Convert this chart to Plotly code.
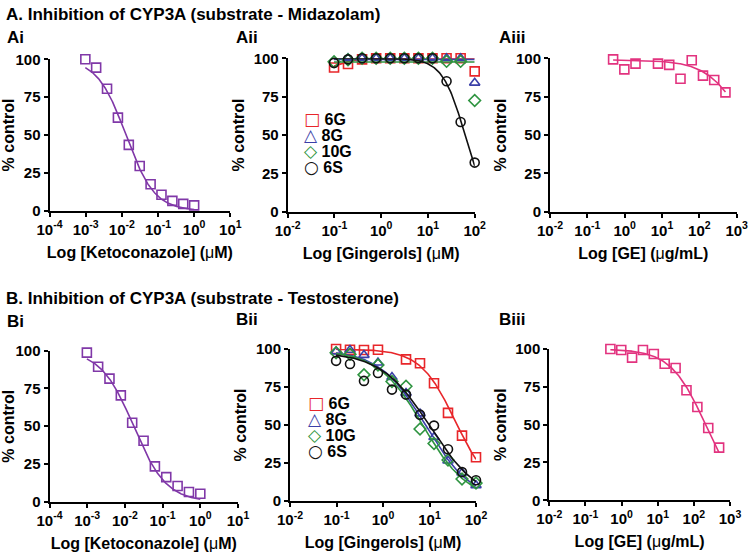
import numpy as np
import plotly.graph_objects as go

# concentrations (serial 2-fold dilutions)
keto_conc = [0.00098, 0.00195, 0.0039, 0.0078, 0.0156, 0.03125, 0.0625, 0.125, 0.25, 0.5, 1.0]
ginger_conc = [0.098, 0.195, 0.39, 0.78, 1.56, 3.125, 6.25, 12.5, 25, 50, 100]
ge_conc = [0.49, 0.98, 1.95, 3.9, 7.8, 15.6, 31.25, 62.5, 125, 250, 500]

gingerol_names = ["6G", "8G", "10G", "6S"]

# A. substrate - Midazolam
a_keto = [100, 94.5, 80.5, 61.5, 43.5, 29.5, 17.5, 10.5, 6.5, 4.5, 3.5]
a_6g = [94, 96.3, 99.3, 100, 100, 100, 100, 100, 100, 100, 91.5]
a_8g = [101.5, 100, 100, 100, 100, 100, 100, 100, 100, 100, 84]
a_10g = [97.8, 99, 100, 100, 100, 100, 100, 100, 98, 98, 72.5]
a_6s = [97, 99.3, 100, 100, 100, 100, 100, 100, 85, 58.5, 32]
a_ge = [99.3, 92.8, 96.5, 100.5, 96.5, 95.7, 86.7, 98.7, 88.7, 85.9, 77.8]

# B. substrate - Testosterone
b_keto = [98.7, 89.4, 81.5, 70.4, 52.3, 40.4, 23.4, 16.3, 10.4, 6.4, 5.3]
b_6g = [100, 99.5, 99.3, 99.5, None, 93.2, 90.6, 77.5, 58, 43, 28.8]
b_8g = [98.3, 99.3, 96, 91, 81.5, 71, 57.5, 42, 26.5, 18.6, 10.3]
b_10g = [97.6, 96.5, 83, 89.5, 78.6, 75.5, 47.4, 37.8, 27, 14.5, 11.8]
b_6s = [92.2, 90.1, 79, 84.2, 73.3, 70, 56.8, 49.6, 34, 19, 13.7]
b_ge = [100, 99.3, 94.3, 99.3, 96.7, 90.3, 87.4, 72.7, 61.7, 47.8, 34.8]

# fitted 4PL parameters: (top, bottom, IC50, hill)
a_keto_fit = (100, 0, 0.013, 1.1)
a_6g_fit = (90, 100, 0.1, 2.0)
a_8g_fit = (99.3, 99.3, 1.0, 1.0)
a_10g_fit = (97.6, 97.6, 1.0, 1.0)
a_6s_fit = (100, 0, 62, 1.8)
a_ge_fit = (99, 0, 2425, 0.83)
b_keto_fit = (100, 0, 0.017, 1.0)
b_6g_fit = (100, 5, 36, 1.15)
b_8g_fit = (99.5, 0, 8.2, 0.88)
b_10g_fit = (99, 0, 7.3, 0.9)
b_6s_fit = (98, 0, 10.2, 0.83)
b_ge_fit = (100, 0, 210, 0.9)

PURPLE = "#8038A8"
PINK = "#E2337F"
gingerol_colors = ["#E8262A", "#3A3FA8", "#2E9440", "#111111"]
gingerol_symbols = ["square-open", "triangle-up-open", "diamond-open", "circle-open"]
legend_glyphs = ["\u25a1", "\u25b3", "\u25c7", "\u25cb"]

W, H = 753, 558
FONT = "Liberation Sans, Arial, sans-serif"


def logistic(x, p):
    top, bottom, ic50, hill = p
    x = np.asarray(x, dtype=float)
    return bottom + (top - bottom) / (1 + (x / ic50) ** hill)


def dec_ticks(lo, hi):
    vals = [10.0 ** k for k in range(lo, hi + 1)]
    txt = ["10<sup>%d</sup>" % k for k in range(lo, hi + 1)]
    return vals, txt


fig = go.Figure()

# panel boxes in pixels: left, right, top(=100), bottom(=0), decades
panels = {
    "Ai": (49.5, 230.3, 59.3, 210.7, (-4, 1)),
    "Aii": (287.7, 474.7, 58.3, 211.7, (-2, 2)),
    "Aiii": (550, 736.7, 58.3, 211.7, (-2, 3)),
    "Bi": (49.5, 238, 350.7, 501.7, (-4, 1)),
    "Bii": (290, 476, 349, 501, (-2, 2)),
    "Biii": (549.3, 730, 349, 500.3, (-2, 3)),
}
xtitles = {
    "Ai": "Log [Ketoconazole] (<span style='font-weight:normal'>\u03bc</span>M)",
    "Aii": "Log [Gingerols] (<span style='font-weight:normal'>\u03bc</span>M)",
    "Aiii": "Log [GE] (<span style='font-weight:normal'>\u03bc</span>g/mL)",
}
xtitles["Bi"] = xtitles["Ai"]
xtitles["Bii"] = xtitles["Aii"]
xtitles["Biii"] = xtitles["Aiii"]

axis_ids = {}
for i, (name, (l, r, t, b, dec)) in enumerate(panels.items()):
    n = "" if i == 0 else str(i + 1)
    axis_ids[name] = ("x" + n, "y" + n)
    tv, tt = dec_ticks(dec[0], dec[1])
    common = dict(showline=True, linewidth=2, linecolor="black", ticks="outside",
                  ticklen=4, tickwidth=2, tickcolor="black", showgrid=False, zeroline=False,
                  tickfont=dict(family=FONT, size=15, color="black", weight="bold"))
    fig.layout["xaxis" + n] = dict(
        domain=[l / W, r / W], anchor="y" + n, type="log", range=list(dec),
        tickvals=tv, ticktext=tt,
        title=dict(text=xtitles[name], standoff=10,
                   font=dict(family=FONT, size=16, color="black", weight="bold")),
        **common)
    fig.layout["yaxis" + n] = dict(
        domain=[1 - b / H, 1 - t / H], anchor="x" + n, range=[0, 100],
        tickvals=[0, 25, 50, 75, 100],
        title=dict(text="% control", standoff=5,
                   font=dict(family=FONT, size=16, color="black", weight="bold")),
        **common)


def add_series(panel, conc, vals, fit, color, symbol):
    xa, ya = axis_ids[panel]
    xs = [c for c, v in zip(conc, vals) if v is not None]
    xf = np.logspace(np.log10(min(xs)), np.log10(max(xs)), 200)
    fig.add_trace(go.Scatter(x=xf, y=logistic(xf, fit), mode="lines", xaxis=xa, yaxis=ya,
                             line=dict(color=color, width=1.6), showlegend=False,
                             cliponaxis=False, hoverinfo="skip"))
    fig.add_trace(go.Scatter(x=conc, y=vals, mode="markers", xaxis=xa, yaxis=ya,
                             marker=dict(symbol=symbol, size=9, color=color,
                                         line=dict(color=color, width=1.6)),
                             showlegend=False, cliponaxis=False))


add_series("Ai", keto_conc, a_keto, a_keto_fit, PURPLE, "square-open")
add_series("Bi", keto_conc, b_keto, b_keto_fit, PURPLE, "square-open")
add_series("Aiii", ge_conc, a_ge, a_ge_fit, PINK, "square-open")
add_series("Biii", ge_conc, b_ge, b_ge_fit, PINK, "square-open")

a_ging = [(a_6g, a_6g_fit), (a_8g, a_8g_fit), (a_10g, a_10g_fit), (a_6s, a_6s_fit)]
b_ging = [(b_6g, b_6g_fit), (b_8g, b_8g_fit), (b_10g, b_10g_fit), (b_6s, b_6s_fit)]
for k in range(4):
    add_series("Aii", ginger_conc, a_ging[k][0], a_ging[k][1], gingerol_colors[k], gingerol_symbols[k])
for k in range(4):
    add_series("Bii", ginger_conc, b_ging[k][0], b_ging[k][1], gingerol_colors[k], gingerol_symbols[k])

annotations = []


def text(x, y, s, size=17):
    annotations.append(dict(x=x / W, y=1 - y / H, xref="paper", yref="paper", text="<b>%s</b>" % s,
                            showarrow=False, xanchor="left", yanchor="middle",
                            font=dict(family=FONT, size=size, color="black")))


text(4, 14, "A. Inhibition of CYP3A (substrate - Midazolam)", 17)
text(4, 298, "B. Inhibition of CYP3A (substrate - Testosterone)", 17)
text(5, 37, "Ai")
text(234, 37, "Aii")
text(497, 37, "Aiii")
text(5, 321, "Bi")
text(234, 319, "Bii")
text(497, 319, "Biii")

# legends inside Aii and Bii
for lx, ly in [(302, 119), (306, 403)]:
    for k, nm in enumerate(gingerol_names):
        annotations.append(dict(
            x=lx / W, y=1 - (ly + 16 * k) / H, xref="paper", yref="paper", showarrow=False,
            xanchor="left", yanchor="middle",
            text="<span style='color:%s;font-size:17px;font-family:DejaVu Sans'>%s</span> <b>%s</b>" % (
                gingerol_colors[k], legend_glyphs[k], nm),
            font=dict(family=FONT, size=16, color="black")))

fig.update_layout(width=W, height=H, margin=dict(l=0, r=0, t=0, b=0, autoexpand=False),
                  plot_bgcolor="white", paper_bgcolor="white",
                  annotations=annotations, showlegend=False)

fig.write_html("out.html", config={"displayModeBar": False},
               post_script="document.body.style.margin='0';")
